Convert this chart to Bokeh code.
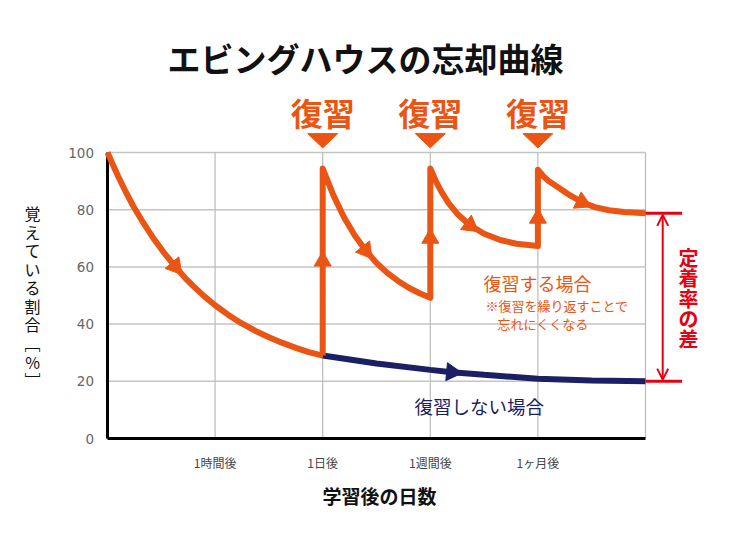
import numpy as np
from bokeh.plotting import figure
from bokeh.models import Range1d, Arrow, OpenHead
from bokeh.core.properties import value
from bokeh.embed import file_html
from bokeh.resources import INLINE

# ---------------- data ----------------
title_text = "エビングハウスの忘却曲線"
x_tick_pos = [1, 2, 3, 4]
x_tick_labels = ["1時間後", "1日後", "1週間後", "1ヶ月後"]
y_tick_pos = [0, 20, 40, 60, 80, 100]
y_tick_labels = ["0", "20", "40", "60", "80", "100"]
x_label = "学習後の日数"
y_label_chars = ["覚", "え", "て", "い", "る", "割", "合", "﹇", "%", "﹈"]

# forgetting curve before 1st review (orange)
forget_x = [0, 0.05, 0.1, 0.17, 0.24, 0.32, 0.42, 0.52, 0.63, 0.72, 0.8, 0.9, 1.0,
            1.12, 1.24, 1.37, 1.5, 1.62, 1.75, 1.87, 2.0]
forget_y = [100, 95.7, 91.6, 86.2, 81.2, 76.2, 70.4, 65.2, 60.1, 56.2, 53.2, 49.7,
            46.6, 43.3, 40.4, 37.7, 35.4, 33.5, 31.7, 30.2, 29]

# no-review curve (navy)
noreview_x = [2, 2.5, 3, 3.2, 3.5, 4, 4.5, 5]
noreview_y = [29, 26.2, 24, 23.2, 22.3, 20.9, 20.3, 20]

# review curves
review_days = [2, 3, 4]
seg1_x = [2, 2.1, 2.2, 2.3, 2.4, 2.5, 2.6, 2.7, 2.8, 2.9, 3.0]
seg1_y = [94.4, 85.0, 77.2, 70.9, 65.7, 61.4, 57.9, 55.1, 52.7, 50.8, 49.2]
seg2_x = [3, 3.05, 3.1, 3.17, 3.25, 3.37, 3.5, 3.65, 3.8, 4.0]
seg2_y = [94.4, 90.1, 86.5, 82.3, 78.6, 74.5, 71.6, 69.4, 68.1, 67.3]
seg3_x = [4, 4.05, 4.1, 4.19, 4.3, 4.41, 4.53, 4.66, 4.8, 5.0]
seg3_y = [94, 91.7, 90.0, 87.8, 85.0, 82.6, 80.9, 79.8, 79.2, 78.8]

# arrow head positions
curve_arrow_x = [0.63, 2.4, 3.37, 4.41]
up_arrow_y = [62, 70, 77]
noreview_arrow_x = [3.2]

review_label = "復習"
label_review = "復習する場合"
note_lines = ["※復習を繰り返すことで", "忘れにくくなる"]
label_noreview = "復習しない場合"
diff_label_chars = ["定", "着", "率", "の", "差"]

# ---------------- styles ----------------
ORANGE = "#ea5514"
NAVY = "#1b2064"
RED = "#e60012"
GRID = "#c4c4c4"
FONT = value("Noto Sans CJK JP")
LH = 1.456  # font box height factor for multi-line text

W, H = 735, 527
PX_X = 107.6   # px per day-step
PX_Y = 2.86    # px per percent
x0 = -107 / PX_X
x1 = x0 + W / PX_X
y0 = -(H - 438) / PX_Y
y1 = y0 + H / PX_Y

p = figure(width=W, height=H, x_range=Range1d(x0, x1), y_range=Range1d(y0, y1),
           output_backend="svg", toolbar_location=None,
           x_axis_location=None, y_axis_location=None, min_border=0)
p.outline_line_color = None
p.background_fill_color = "white"
p.border_fill_color = "white"
p.xgrid.grid_line_color = None
p.ygrid.grid_line_color = None
p.grid.visible = False

# grid
xmax = 5
p.segment(x0=[0] * 5, x1=[xmax] * 5, y0=y_tick_pos[1:], y1=y_tick_pos[1:],
          line_color=GRID, line_width=1.5)
p.segment(x0=x_tick_pos + [xmax], x1=x_tick_pos + [xmax], y0=[0] * 5, y1=[100] * 5,
          line_color="#bbbbbb", line_width=1.2)

# axes lines
p.line([0, 0], [0, 100], line_color="black", line_width=3)
p.line([0, xmax], [0, 0], line_color="black", line_width=3)

# tick labels
p.text(x=[-0.125] * len(y_tick_pos), y=y_tick_pos, text=y_tick_labels,
       text_font=value("DejaVu Sans"), text_font_size="13.5px", text_color="#666666",
       text_align="right", text_baseline="middle")
p.text(x=x_tick_pos, y=[-8.4] * 4, text=x_tick_labels, text_font=FONT,
       text_font_size="12px", text_color="#444444", text_align="center",
       text_baseline="middle")
p.text(x=[2.528], y=[-19.9], text=[x_label], text_font=FONT, text_font_size="19px",
       text_font_style="bold", text_color="#111111", text_align="center",
       text_baseline="middle")
p.text(x=[-0.697], y=[49.6], text=["\n".join(y_label_chars)], text_font=FONT,
       text_font_size="16px", text_line_height=18 / (16 * LH), text_color="#111111",
       text_align="center", text_baseline="middle")

# title
p.text(x=[2.398], y=[133.2], text=[title_text], text_font=FONT, text_font_size="33px",
       text_font_style="bold", text_color="#111111", text_align="center",
       text_baseline="middle")

# curves
p.line(noreview_x, noreview_y, line_color=NAVY, line_width=6)
p.line(forget_x, forget_y, line_color=ORANGE, line_width=6, line_join="round")
rev_x = [2] + seg1_x + [3] + seg2_x + [4] + seg3_x
rev_y = [forget_y[-1]] + seg1_y + [seg1_y[-1]] + seg2_y + [seg2_y[-1]] + seg3_y
p.line(rev_x, rev_y, line_color=ORANGE, line_width=6, line_join="round")


def angle_on(xs, ys, x):
    d = 0.03
    ya = np.interp(x - d, xs, ys)
    yb = np.interp(x + d, xs, ys)
    th = np.arctan2((yb - ya) * PX_Y, 2 * d * PX_X)
    return th - np.pi / 2


segs = [(forget_x, forget_y), (seg1_x, seg1_y), (seg2_x, seg2_y), (seg3_x, seg3_y)]
ax, ay, aa = [], [], []
for (sx, sy), xa in zip(segs, curve_arrow_x):
    ax.append(xa)
    ay.append(float(np.interp(xa, sx, sy)))
    aa.append(float(angle_on(sx, sy, xa)))
p.scatter(ax, ay, marker="triangle", size=18, angle=aa, fill_color=ORANGE,
          line_color=ORANGE)
p.scatter(review_days, up_arrow_y, marker="triangle", size=17, fill_color=ORANGE,
          line_color=ORANGE)
nx = noreview_arrow_x
p.scatter(nx, [float(np.interp(v, noreview_x, noreview_y)) for v in nx],
          marker="triangle", size=18,
          angle=[float(angle_on(noreview_x, noreview_y, v)) for v in nx],
          fill_color=NAVY, line_color=NAVY)

# review labels and down-triangles
p.text(x=review_days, y=[114] * 3, text=[review_label] * 3, text_font=FONT,
       text_font_size="32px", text_font_style="bold", text_color=ORANGE,
       text_align="center", text_baseline="middle")
hw = 15 / PX_X
tri_xs = [[d - hw, d + hw, d] for d in review_days]
tri_ys = [[106.6, 106.6, 101.6] for _ in review_days]
p.patches(tri_xs, tri_ys, fill_color=ORANGE, line_color=ORANGE)

# annotation texts
p.text(x=[3.494], y=[54.5], text=[label_review], text_font=FONT, text_font_size="18px",
       text_color=ORANGE, text_align="left", text_baseline="middle")
p.text(x=[3.513, 3.625], y=[46.5, 40.2], text=note_lines, text_font=FONT,
       text_font_size="13px", text_color=ORANGE, text_align="left",
       text_baseline="middle")
p.text(x=[2.853], y=[11.5], text=[label_noreview], text_font=FONT,
       text_font_size="18.5px", text_color=NAVY, text_align="left",
       text_baseline="middle")

# difference bracket
top_v = seg3_y[-1]
bot_v = noreview_y[-1]
bx1 = 5.34
p.segment(x0=[xmax, xmax], x1=[bx1, bx1], y0=[top_v, bot_v], y1=[top_v, bot_v],
          line_color=RED, line_width=3)
p.add_layout(Arrow(start=OpenHead(size=11, line_color=RED, line_width=2),
                   end=OpenHead(size=11, line_color=RED, line_width=2),
                   x_start=5.16, y_start=bot_v + 0.6, x_end=5.16, y_end=top_v - 0.6,
                   line_color=RED, line_width=2))
p.text(x=[5.40], y=[49.1], text=["\n".join(diff_label_chars)], text_font=FONT,
       text_font_size="20px", text_font_style="bold",
       text_line_height=20.5 / (20 * LH),
       text_color=RED, text_align="center", text_baseline="middle")

open("out.html", "w").write(file_html(p, INLINE))
